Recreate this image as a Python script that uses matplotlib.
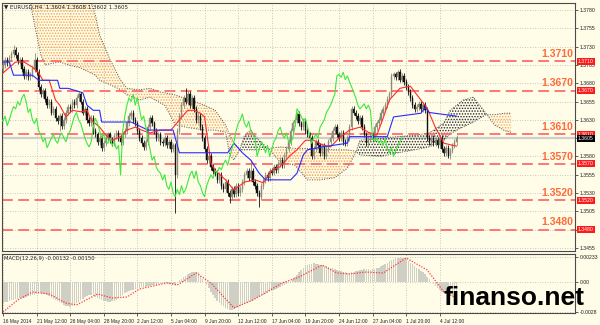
import numpy as np
import matplotlib.pyplot as plt

plt.rcParams['font.family'] = ['Liberation Sans', 'DejaVu Sans']
plt.rcParams['hatch.linewidth'] = 0.7

BG = '#fffce8'

# H4 closes, bar 0 = 16 May 2014
closes = [
    1.3705, 1.3712, 1.3708, 1.3715, 1.3720,
    1.3725, 1.3718, 1.3710, 1.3712, 1.3700,
    1.3690, 1.3695, 1.3688, 1.3692, 1.3700,
    1.3712,
    1.3695, 1.3675, 1.3665, 1.3670, 1.3658,
    1.3650, 1.3655, 1.3640, 1.3645, 1.3632, 1.3628, 1.3635, 1.3622, 1.3630, 1.3640,
    1.3648, 1.3645, 1.3655, 1.3650, 1.3660, 1.3665, 1.3655,
    1.3640, 1.3645, 1.3630, 1.3625, 1.3632, 1.3615, 1.3610, 1.3600, 1.3605, 1.3592, 1.3598,
    1.3605, 1.3610, 1.3602, 1.3598, 1.3608, 1.3612, 1.3605, 1.3600, 1.3610, 1.3615,
    1.3625, 1.3635, 1.3640, 1.3630,
    1.3625, 1.3615, 1.3605, 1.3598, 1.3593, 1.3600,
    1.3620, 1.3632, 1.3625, 1.3615,
    1.3605, 1.3610, 1.3600, 1.3598, 1.3605, 1.3595, 1.3600, 1.3590, 1.3595,
    1.3555,
    1.3615, 1.3635, 1.3650, 1.3660, 1.3655, 1.3665, 1.3650, 1.3660,
    1.3645, 1.3630, 1.3635, 1.3620,
    1.3605, 1.3590, 1.3575, 1.3580, 1.3565, 1.3560, 1.3557,
    1.3548, 1.3555, 1.3540, 1.3535, 1.3545, 1.3530, 1.3525, 1.3535, 1.3528, 1.3540, 1.3530, 1.3535,
    1.3545, 1.3555, 1.3560, 1.3550, 1.3560, 1.3545, 1.3540, 1.3530, 1.3525,
    1.3540, 1.3548, 1.3555, 1.3550, 1.3560, 1.3558, 1.3565, 1.3562,
    1.3570, 1.3575, 1.3568, 1.3580, 1.3590,
    1.3600, 1.3615, 1.3625, 1.3630, 1.3638, 1.3625,
    1.3620, 1.3628, 1.3615, 1.3610, 1.3605,
    1.3580,
    1.3590, 1.3600, 1.3595, 1.3585, 1.3595,
    1.3580, 1.3590, 1.3600,
    1.3605, 1.3615, 1.3620, 1.3610, 1.3605, 1.3612, 1.3600, 1.3598,
    1.3605, 1.3620, 1.3645,
    1.3640, 1.3635, 1.3628, 1.3632, 1.3620,
    1.3610, 1.3598, 1.3605,
    1.3610, 1.3605, 1.3620, 1.3625, 1.3630, 1.3640, 1.3645, 1.3650, 1.3658,
    1.3665, 1.3690,
    1.3692, 1.3688, 1.3695, 1.3685, 1.3690, 1.3682,
    1.3675, 1.3668, 1.3660, 1.3650, 1.3645, 1.3648,
    1.3652, 1.3645, 1.3650, 1.3643,
    1.3605,
    1.3600, 1.3605, 1.3598, 1.3602, 1.3595, 1.3605,
    1.3590, 1.3585, 1.3592, 1.3580, 1.3588,
    1.3595, 1.3600, 1.3605,
]
first_open = 1.3700
spike_highs = {5: 1.3732, 15: 1.3721, 37: 1.3668, 87: 1.3673, 118: 1.3575,
               140: 1.3641, 188: 1.3698}
spike_lows = {27: 1.3615, 82: 1.3503, 108: 1.3516, 122: 1.3511, 212: 1.3578}

# Ichimoku lines
tenkan_bars = [0, 6, 10, 14, 17, 19, 22, 25, 27, 30, 33, 37, 40, 42, 46, 49, 52, 56,
               59, 63, 66, 70, 75, 80, 84, 88, 91, 94, 96, 99, 101, 106, 110, 115,
               120, 124, 128, 132, 137, 140, 144, 148, 152, 156, 160, 165, 170, 174,
               178, 181, 184, 189, 194, 199, 202, 206, 210, 216]
tenkan = [1.3694, 1.3709, 1.3709, 1.3702, 1.3694, 1.3684, 1.3684, 1.3657, 1.3650,
          1.3634, 1.3643, 1.3641, 1.3643, 1.3630, 1.3620, 1.3609, 1.3602, 1.3607,
          1.3616, 1.3620, 1.3616, 1.3612, 1.3616, 1.3616, 1.3630, 1.3643, 1.3643,
          1.3639, 1.3634, 1.3571, 1.3561, 1.3548, 1.3534, 1.3545, 1.3548, 1.3544,
          1.3561, 1.3566, 1.3582, 1.3589, 1.3602, 1.3602, 1.3596, 1.3593, 1.3605,
          1.3616, 1.3620, 1.3613, 1.3609, 1.3632, 1.3657, 1.3673, 1.3676, 1.3657,
          1.3646, 1.3619, 1.3598, 1.3594]

kijun_bars = [0, 3, 5, 14, 17, 26, 27, 31, 38, 40, 43, 46, 47, 61, 69, 81, 84, 107,
              110, 114, 118, 122, 125, 137, 140, 143, 145, 152, 164, 165, 183, 186,
              199, 201, 203, 216]
kijun = [1.3709, 1.3709, 1.3691, 1.3691, 1.3684, 1.3684, 1.3673, 1.3673, 1.3667,
         1.3650, 1.3643, 1.3643, 1.3627, 1.3627, 1.3616, 1.3616, 1.3585, 1.3585,
         1.3598, 1.3585, 1.3575, 1.3557, 1.3548, 1.3548, 1.3557, 1.3582, 1.3589,
         1.3593, 1.3598, 1.3607, 1.3607, 1.3634, 1.3639, 1.3647, 1.3640, 1.3635]

cloud_bars = [13, 15, 18, 20, 25, 27, 31, 37, 41, 44, 46, 51, 56, 59, 65, 70, 75, 77,
              82, 89, 96, 101, 106, 108, 110, 113, 115, 118, 121, 125, 127, 132, 139,
              145, 151, 158, 164, 168, 170, 180, 188, 196, 203, 210, 213, 219, 224,
              227, 230, 231, 234, 239, 242]
span_b = [1.3821, 1.3821, 1.3821, 1.3821, 1.3821, 1.3821, 1.3821, 1.3821, 1.3800,
          1.3773, 1.3746, 1.3712, 1.3684, 1.3673, 1.3671, 1.3673, 1.3668, 1.3667,
          1.3664, 1.3657, 1.3650, 1.3643, 1.3623, 1.3609, 1.3598, 1.3589, 1.3589,
          1.3589, 1.3589, 1.3590, 1.3591, 1.3593, 1.3591, 1.3591, 1.3590, 1.3589,
          1.3589, 1.3587, 1.3582, 1.3580, 1.3585, 1.3589, 1.3593, 1.3602, 1.3611,
          1.3620, 1.3627, 1.3632, 1.3637, 1.3637, 1.3637, 1.3639, 1.3639]
span_a = [1.3791, 1.3760, 1.3719, 1.3705, 1.3708, 1.3709, 1.3705, 1.3701, 1.3695,
          1.3691, 1.3684, 1.3678, 1.3671, 1.3664, 1.3657, 1.3661, 1.3653, 1.3650,
          1.3623, 1.3619, 1.3616, 1.3616, 1.3613, 1.3582, 1.3575, 1.3591, 1.3609,
          1.3616, 1.3605, 1.3594, 1.3589, 1.3572, 1.3568, 1.3548, 1.3548, 1.3551,
          1.3564, 1.3585, 1.3602, 1.3605, 1.3607, 1.3609, 1.3612, 1.3626, 1.3643,
          1.3657, 1.3661, 1.3650, 1.3639, 1.3635, 1.3623, 1.3615, 1.3613]

levels = [1.3710, 1.3670, 1.3610, 1.3570, 1.3520, 1.3480]
last_price = 1.3605

# MACD main (histogram), units of 1e-5
macd_hist = [
    -195, -190, -185, -180, -170, -165, -160, -155, -150, -150,
    -145, -140, -135, -130, -125, -120,
    -110, -105, -105, -110, -115, -125, -135, -145,
    -160, -170, -180, -190, -200, -210, -220, -225, -230, -225,
    -215, -200, -185, -170, -155,
    -140, -130, -125, -125, -130, -140, -150, -160,
    -170, -175, -180, -185, -185, -180, -175, -165, -150, -135,
    -120, -105, -90, -80, -75, -70, -65, -60, -55, -50,
    -45, -45, -40, -35, -30, -30, -25, -20, -20, -15, -15, -10, -15,
    -20, -15, -30,
    0, 15, 30, 45, 60, 75, 85, 90, 95, 95, 90,
    60, 30, 0, -30, -60, -90, -120, -150, -175, -195,
    -210, -225, -240, -250, -260, -260, -255, -245, -235,
    -225, -215, -205, -195, -185, -175, -165, -155, -145, -140, -130, -120, -110,
    -100, -90, -80, -75,
    -65, -55, -45, -35, -25, -15, -5, 10, 25, 45,
    65, 90, 115, 135, 150, 160, 168, 172, 175, 172, 168, 162, 156, 150, 145, 140, 135,
    130, 120, 110, 105, 100, 95, 90, 88, 88, 90, 95, 100, 105, 110,
    115, 118, 120, 118, 115, 118, 122, 128, 135, 145, 155, 168, 180, 192, 205, 215, 222,
    226, 228, 226, 220, 210, 195,
    180, 165, 150, 135, 120, 105, 90, 70, 50, 25,
    0, -20, -40, -60, -75, -90, -100, -110, -118, -125, -130, -132, -132,
]
signal_bars = [0, 7, 14, 22, 30, 35, 45, 52, 59, 65, 78, 83, 92, 99, 110, 119, 133,
               141, 152, 159, 165, 173, 181, 192, 202, 210, 216]
signal = [-0.00280, -0.00168, -0.00093, -0.00112, -0.00196, -0.00214, -0.00112,
          -0.00149, -0.00140, -0.00065, -0.00009, -0.00028, 0.00084, -0.00009,
          -0.00242, -0.00168, -0.00009, 0.00047, 0.00158, 0.00084, 0.00075, 0.00093,
          0.00084, 0.00224, 0.00112, -0.00093, -0.00150]

time_labels = ['16 May 2014', '21 May 12:00', '26 May 04:00', '28 May 20:00',
               '2 Jun 12:00', '5 Jun 04:00', '9 Jun 20:00', '12 Jun 12:00',
               '17 Jun 04:00', '19 Jun 20:00', '24 Jun 12:00', '27 Jun 04:00',
               '1 Jul 20:00', '4 Jul 12:00']
label_bars = np.arange(len(time_labels)) * 16

closes = np.array(closes)
bars = np.arange(len(closes))
opens = np.r_[first_open, closes[:-1]]
highs = np.maximum(opens, closes) + 0.0004
lows = np.minimum(opens, closes) - 0.0004
for i, v in spike_highs.items():
    highs[i] = v
for i, v in spike_lows.items():
    lows[i] = v
hist = np.array(macd_hist) * 1e-5

fig = plt.figure(figsize=(6, 3.25), dpi=100, facecolor=BG)
ax = fig.add_axes([2/600, 74/325, 573/600, 248/325], facecolor=BG)
axm = fig.add_axes([2/600, 12/325, 573/600, 59/325], facecolor=BG)

xlim = (-0.48, 272.4)
for a in (ax, axm):
    a.set_xlim(*xlim)
    a.set_axisbelow(True)
    a.set_xticks(label_bars)
    a.grid(True, ls=(0, (1, 2)), color='#b8b8b0', lw=0.6)
    for s in a.spines.values():
        s.set_color('#4a4a4a')
        s.set_linewidth(0.8)
    a.yaxis.tick_right()
    a.tick_params(axis='y', labelsize=3.7, length=2, pad=1.5, width=0.5,
                  colors='#202020')

# main price panel
ax.set_ylim(1.34508, 1.37896)
price_ticks = np.arange(1.3455, 1.37801, 0.0025)
ax.set_yticks(price_ticks)
# labels hidden under the level / price boxes are left blank
hidden = levels + [last_price]
ax.set_yticklabels(['' if any(abs(p - h) < 1e-6 for h in hidden) else f'{p:.4f}'
                    for p in price_ticks])
ax.tick_params(axis='x', labelbottom=False, length=0)

# cloud
cb = np.array(cloud_bars)
sa = np.array(span_a)
sb = np.array(span_b)
ax.fill_between(cb, sa, sb, where=sb >= sa, interpolate=True, facecolor='none',
                edgecolor='#f5a54e', hatch='......', lw=0, zorder=2)
ax.fill_between(cb, sa, sb, where=sa > sb, interpolate=True, facecolor='none',
                edgecolor='#2a2a2a', hatch='......', lw=0, zorder=2)
ax.plot(cb, sa, ls=(0, (1, 1.5)), color='#505050', lw=0.7, zorder=2)
ax.plot(cb, sb, ls=(0, (1, 1.5)), color='#505050', lw=0.7, zorder=2)

ax.axhline(last_price, color='#cfcfc8', lw=1.6, zorder=1.5)

for lv in levels:
    ax.axhline(lv, color='#ff6b6b', lw=1.3, dashes=(6, 3), zorder=2.5)
    ax.annotate(f'{lv:.4f}', xy=(0.997, lv), xycoords=('axes fraction', 'data'),
                xytext=(0, 3), textcoords='offset points', ha='right',
                va='baseline', fontsize=7.5, fontweight='bold', color='#ff6a3a')
    ax.annotate(f'{lv:.4f}', xy=(1, lv), xycoords=('axes fraction', 'data'),
                xytext=(2, 0), textcoords='offset points', ha='left', va='center',
                fontsize=3.7, color='white', annotation_clip=False,
                bbox=dict(boxstyle='square,pad=0.2', fc='#ff1a1a', ec='none'))
ax.annotate(f'{last_price:.4f}', xy=(1, last_price),
            xycoords=('axes fraction', 'data'), xytext=(2, 0),
            textcoords='offset points', ha='left', va='center', fontsize=3.7,
            color='white', annotation_clip=False,
            bbox=dict(boxstyle='square,pad=0.2', fc='black', ec='none'))

# candles
up = closes >= opens
cols = np.where(up, '#8c8c78', '#111111')
ax.vlines(bars, lows, highs, colors=cols, lw=0.6, zorder=3)
ax.bar(bars, np.maximum(np.abs(closes - opens), 0.00005),
       bottom=np.minimum(opens, closes), width=0.62, color=cols,
       edgecolor=cols, lw=0.3, zorder=3)

# tenkan, kijun, chikou
ax.plot(tenkan_bars, tenkan, color='#ff2a2a', lw=0.8, zorder=4)
ax.plot(kijun_bars, kijun, color='#2a2aff', lw=0.8, zorder=4)
ax.plot(bars - 26, closes, color='#3ee83e', lw=0.8, zorder=4)

ax.text(0.003, 0.993, '\u25bc EURUSD,H4  1.3604 1.3608 1.3602 1.3605',
        transform=ax.transAxes, va='top', ha='left', fontsize=4,
        color='#202020', family=['DejaVu Sans'])

# MACD panel
axm.set_ylim(-0.00289, 0.00261)
axm.bar(bars, hist, width=0.7, color='#cfcfc6', zorder=2)
axm.plot(signal_bars, signal, color='#ff3a3a', ls=(0, (1, 1.2)), lw=0.9, zorder=3)
axm.set_yticks([0.00233, 0.0, -0.0028])
axm.set_yticklabels(['0.00233', '0.00', '-0.0028'])
axm.set_xticklabels(time_labels, ha='left')
axm.tick_params(axis='x', labelsize=3.5, length=2.5, pad=1.5, width=0.5,
                colors='#202020')
axm.text(0.003, 0.96, 'MACD(12,26,9) -0.00132 -0.00150', transform=axm.transAxes,
         va='top', ha='left', fontsize=3.8, color='#202020', family=['DejaVu Sans'])

fig.text(444/600, 1 - 305/325, 'finanso.net', fontsize=19, fontweight='bold',
         color='black', ha='left', va='baseline')

fig.savefig('out.png', dpi=100, facecolor=BG)
